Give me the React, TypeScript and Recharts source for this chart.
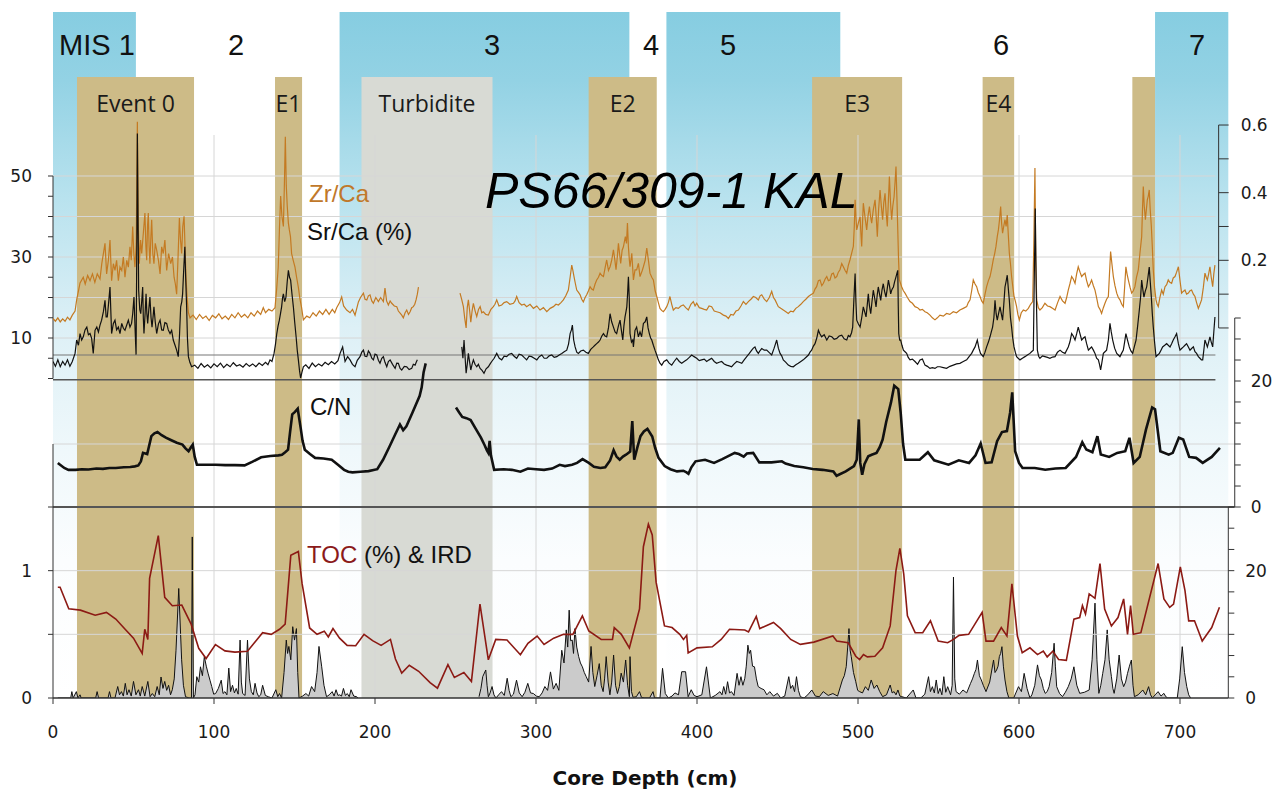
import React from "react";
import {
  ComposedChart,
  Line,
  Area,
  XAxis,
  YAxis,
  ReferenceArea,
  ReferenceLine,
} from "recharts";

const W = 1285;
const H = 792;
const X0 = 53; // pixel of 0 cm
const PX_PER_CM = 1.61;
const depthToX = (d: number) => X0 + d * PX_PER_CM;

type Pt = [number, number | null];
const toRows = (pts: Pt[]) => pts.map(([d, v]) => ({ d, v }));

// ---- annotations (depth ranges in cm) ----
const MIS_STAGES = [
  { name: "MIS 1", from: 0, to: 51.5, warm: true, labelAt: 27.3 },
  { name: "2", from: 51.5, to: 178, warm: false, labelAt: 113.7 },
  { name: "3", from: 178, to: 358, warm: true, labelAt: 272.7 },
  { name: "4", from: 358, to: 381, warm: false, labelAt: 371.4 },
  { name: "5", from: 381, to: 489, warm: true, labelAt: 419.3 },
  { name: "6", from: 489, to: 684.5, warm: false, labelAt: 588.8 },
  { name: "7", from: 684.5, to: 730, warm: true, labelAt: 710.6 },
];

const EVENTS = [
  { name: "Event 0", from: 14.9, to: 87.6, kind: "ird" },
  { name: "E1", from: 137.9, to: 154.7, kind: "ird" },
  { name: "Turbidite", from: 191.6, to: 273, kind: "turbidite" },
  { name: "E2", from: 332.7, to: 375, kind: "ird" },
  { name: "E3", from: 471.5, to: 527.4, kind: "ird" },
  { name: "E4", from: 577.4, to: 597, kind: "ird" },
  { name: "", from: 670.4, to: 684.5, kind: "ird" },
];

const DEPTH_TICKS = [0, 100, 200, 300, 400, 500, 600, 700];
const SR_TICKS = [0, 5, 10, 15, 20, 25, 30, 35, 40, 45, 50];
const ZR_TICKS = [0, 0.1, 0.2, 0.3, 0.4, 0.5, 0.6];
const CN_TICKS = [0, 3.33, 6.67, 10, 13.33, 16.67, 20, 23.33, 26.67, 30];
const TOC_TICKS = [0, 0.5, 1, 1.5];
const IRD_TICKS = [0, 3.33, 6.67, 10, 13.33, 16.67, 20, 23.33, 26.67, 30];

// ---- Zr/Ca (right axis, top panel) ----
const ZR_CA: Pt[] = [
  [0,0.028],[1.5,0.02],[3,0.03],[4.5,0.018],[6,0.027],[7.5,0.02],[9,0.032],[10.5,0.024],[12,0.038],[13.7,0.05],
  [14.7,0.083],[16.8,0.133],[18.8,0.15],[20,0.13],[21.5,0.155],[23,0.14],[24.5,0.16],[26,0.135],[27.5,0.16],[29.2,0.145],
  [30.3,0.19],[31.3,0.22],[32.3,0.25],[33.3,0.16],[34.4,0.2],[35.4,0.26],[36.4,0.14],[37.5,0.19],[38.5,0.17],[39.5,0.2],
  [40.6,0.14],[41.6,0.18],[42.7,0.17],[43.7,0.21],[44.7,0.15],[45.8,0.2],[46.8,0.18],[47.8,0.24],[48.6,0.2],[49.5,0.3],
  [50.2,0.22],[50.9,0.18],[51.7,0.25],[52.4,0.61],[53,0.3],[53.6,0.19],[54.4,0.26],[55.1,0.22],[56.1,0.28],[57.1,0.34],
  [57.7,0.24],[58.2,0.2],[58.7,0.3],[59.2,0.34],[59.7,0.24],[60.2,0.19],[60.8,0.27],[61.3,0.32],[62,0.22],[62.7,0.19],
  [63.5,0.25],[64.4,0.23],[65.5,0.2],[66.5,0.16],[67.5,0.24],[68.5,0.22],[69.5,0.26],[70.6,0.17],[71.8,0.22],[73.1,0.19],
  [74.2,0.21],[75.2,0.15],[76,0.13],[76.8,0.1],[77.6,0.2],[78.5,0.325],[79.2,0.26],[79.9,0.22],[80.6,0.3],[81.4,0.33],
  [82,0.24],[82.6,0.15],[83.3,0.09],[84.1,0.045],[85.1,0.03],
  [87,0.038],[89,0.025],[91,0.04],[93,0.028],[95,0.035],[97,0.022],[99,0.037],[101,0.03],[103,0.042],[105,0.027],
  [107,0.035],[109,0.025],[111,0.04],[113,0.03],[115,0.045],[117,0.032],[119,0.04],[121,0.03],[123,0.045],[125,0.035],
  [127,0.05],[129,0.04],[130.6,0.06],[132,0.045],[134,0.055],[136,0.05],[137.9,0.06],
  [139,0.12],[139.9,0.18],[140.7,0.3],[141.4,0.39],[142.2,0.33],[143.1,0.3],[143.7,0.42],[144.3,0.565],[144.9,0.42],[145.5,0.36],
  [146.2,0.31],[146.8,0.29],[147.5,0.27],[148.2,0.22],[149.2,0.2],[150.3,0.18],[151.3,0.15],[152.4,0.12],[153.4,0.085],[154.4,0.06],
  [155.5,0.024],[157.6,0.035],[159.5,0.03],[161.5,0.045],[163.5,0.035],[165.5,0.05],[167.5,0.04],[169.5,0.055],[171.5,0.04],[173.5,0.055],
  [175,0.045],[176.2,0.06],[178,0.075],[179.3,0.092],[180.5,0.065],[182.4,0.053],[184.5,0.045],[186,0.055],[187.6,0.038],[189.7,0.077],
  [191,0.09],[192.8,0.103],[193.8,0.085],[194.9,0.083],[195.9,0.095],[196.9,0.098],[198,0.08],[199,0.073],[200.5,0.09],[202.1,0.078],
  [203.5,0.09],[205.2,0.078],[206.2,0.118],[207.2,0.08],[208.3,0.068],[209.4,0.08],[210.4,0.073],[212,0.065],[213.5,0.063],[214.5,0.05],
  [215.6,0.044],[216.6,0.038],[217.6,0.03],[218.7,0.045],[219.7,0.053],[220.8,0.04],[221.8,0.048],[222.8,0.06],[223.8,0.063],[224.7,0.07],
  [225.5,0.083],[226.3,0.1],[227,0.121],
  [240,null],
  [252.8,0.103],[253.8,0.085],[254.9,0.063],[255.7,0.03],[256.6,0],[257.3,0.06],[258,0.083],[258.8,0.05],[259.5,0.017],[260.3,0.05],
  [261.1,0.073],[262.2,0.05],[263.2,0.034],[264.3,0.055],[265.3,0.063],[266.3,0.045],[267.3,0.048],[268.8,0.04],[270.4,0.038],[272,0.055],
  [273.5,0.063],[274.5,0.07],[275.6,0.083],[277,0.065],[278.7,0.068],[280.2,0.075],[281.8,0.078],[283.8,0.07],[286,0.073],[287,0.08],
  [288,0.093],[289.5,0.075],[291.1,0.068],[292.7,0.07],[294.2,0.063],[296.3,0.07],[298.4,0.058],[300.5,0.065],[302.5,0.053],[304.6,0.06],
  [306.7,0.048],[308.8,0.058],[310.8,0.063],[312.4,0.07],[313.9,0.068],[315.5,0.075],[317,0.083],[318.5,0.095],[320.1,0.112],[321.2,0.15],
  [322.2,0.186],[322.9,0.17],[323.6,0.152],[324.5,0.13],[325.3,0.112],[326.4,0.105],[327.4,0.098],[328.4,0.085],[329.4,0.077],[330.5,0.09],
  [331.5,0.098],[332.6,0.11],[333.6,0.122],[334.6,0.115],[335.6,0.112],[336.7,0.13],[337.7,0.142],[338.8,0.15],[339.8,0.162],[340.9,0.155],
  [341.9,0.152],[343,0.18],[343.9,0.201],[345,0.17],[346,0.181],[347,0.2],[348.1,0.231],[349,0.2],[349.7,0.172],[350.5,0.21],
  [351.2,0.25],[351.9,0.22],[352.6,0.191],[353.5,0.23],[354.3,0.24],[355.5,0.27],[356.2,0.25],[356.8,0.31],[357.4,0.24],[358,0.2],
  [358.4,0.181],[359.5,0.221],[360.5,0.142],[361.5,0.172],[362.5,0.172],[363.6,0.191],[364.6,0.152],[366,0.17],[366.7,0.181],[367.8,0.2],
  [368.8,0.236],[369.8,0.201],[370.8,0.162],[371.9,0.15],[372.9,0.142],[374,0.11],[375,0.093],[376,0.075],[377,0.058],[378,0.052],
  [379.1,0.048],[380.2,0.055],[381.2,0.063],[382.2,0.075],[383.2,0.093],[384.3,0.07],[385.3,0.053],[386.9,0.06],[388.4,0.058],[390,0.065],
  [391.5,0.068],[393,0.06],[394.6,0.053],[396.2,0.07],[397.7,0.078],[398.8,0.065],[399.8,0.073],[401.4,0.06],[402.9,0.058],[404.5,0.055],
  [406,0.053],[407.5,0.065],[409.1,0.063],[410.7,0.05],[412.2,0.048],[414.3,0.045],[416.4,0.038],[418,0.035],[419.5,0.028],[421,0.04],
  [422.6,0.038],[424.2,0.05],[425.7,0.053],[427.3,0.065],[428.8,0.078],[430.4,0.07],[431.9,0.078],[433.5,0.085],[435,0.093],[436.5,0.09],
  [438.1,0.083],[439.2,0.095],[440.2,0.098],[441.8,0.085],[443.3,0.078],[444.9,0.09],[446.4,0.108],[447.5,0.09],[448.5,0.083],[450.5,0.063],
  [452,0.058],[453.6,0.053],[455.2,0.048],[456.7,0.043],[458.2,0.05],[459.8,0.048],[461.4,0.058],[462.9,0.063],[464.5,0.07],[466,0.078],
  [467.6,0.085],[469.2,0.093],[470.7,0.098],[472.3,0.103],[473.3,0.115],[474.3,0.122],[475.4,0.14],[476.4,0.142],[477.5,0.125],[478.5,0.132],
  [479.6,0.145],[480.6,0.152],[481.6,0.14],[482.6,0.142],[483.7,0.16],[484.7,0.162],[485.7,0.148],[486.8,0.152],[487.8,0.165],[488.8,0.172],
  [489.9,0.19],[490.9,0.181],[492,0.17],[493,0.162],[494,0.185],[495,0.201],[496,0.22],[497.1,0.241],[497.7,0.3],[498.2,0.379],
  [498.7,0.33],[499.2,0.29],[500.2,0.31],[501.3,0.329],[501.8,0.28],[502.3,0.241],[502.8,0.31],[503.3,0.369],[504.3,0.33],[505.4,0.29],
  [506.2,0.33],[507.1,0.359],[507.8,0.33],[508.5,0.31],[509.5,0.35],[510.6,0.379],[511.3,0.33],[512,0.27],[512.8,0.35],[513.7,0.408],
  [514.5,0.36],[515.3,0.32],[516,0.37],[516.8,0.398],[517.5,0.34],[518.2,0.3],[518.9,0.38],[519.5,0.448],[520.2,0.37],[520.9,0.32],
  [521.6,0.36],[522.4,0.388],[523,0.43],[523.6,0.477],[524.2,0.38],[524.7,0.29],[525.2,0.2],[525.7,0.142],[527.1,0.122],[528.2,0.11],
  [529.2,0.103],[530.7,0.09],[532.3,0.078],[533.8,0.073],[535.4,0.063],[537,0.06],[538.5,0.053],[540,0.055],[541.6,0.048],[543,0.045],
  [544.7,0.038],[546.2,0.03],[547.8,0.024],[549.3,0.03],[550.9,0.038],[553,0.035],[555,0.043],[557,0.04],[559.2,0.048],[561.2,0.045],
  [563.3,0.053],[565.4,0.058],[567.5,0.063],[568.5,0.075],[569.6,0.083],[570.6,0.11],[571.6,0.142],[572.7,0.13],[573.7,0.122],[574.7,0.105],
  [575.8,0.093],[576.8,0.08],[577.8,0.073],[578.9,0.1],[579.9,0.122],[581,0.14],[582,0.152],[583,0.175],[584,0.201],[584.9,0.22],
  [585.7,0.241],[586.5,0.27],[587.2,0.29],[587.9,0.32],[588.6,0.359],[589.2,0.31],[589.8,0.28],[590.5,0.3],[591.3,0.32],[592,0.3],
  [592.7,0.334],[593.3,0.28],[594,0.221],[594.7,0.19],[595.4,0.152],[596.2,0.12],[596.9,0.093],[597.7,0.08],[598.5,0.063],[599.3,0.04],
  [600.2,0.024],[601.4,0.045],[602.7,0.053],[604.2,0.05],[605.8,0.058],[607.2,0.07],[608.5,0.078],[609.2,0.25],[609.9,0.473],[610.4,0.2],
  [611,0.083],[612,0.06],[613,0.053],[614.5,0.06],[616.1,0.073],[617.7,0.065],[619.2,0.063],[620.8,0.058],[622.4,0.053],[624,0.075],
  [625.5,0.093],[627,0.08],[628.6,0.073],[629.6,0.09],[630.6,0.112],[631.6,0.13],[632.7,0.152],[633.7,0.145],[634.8,0.132],[635.8,0.16],
  [636.8,0.181],[637.9,0.165],[638.9,0.152],[640,0.158],[641,0.162],[642,0.14],[643.1,0.122],[644.1,0.13],[645.1,0.142],[646.2,0.125],
  [647.2,0.112],[648.2,0.09],[649.3,0.063],[650.3,0.055],[651.3,0.043],[652.4,0.06],[653.4,0.073],[654.4,0.085],[655.5,0.093],[656.2,0.16],
  [656.9,0.226],[657.7,0.19],[658.6,0.152],[659.6,0.125],[660.7,0.103],[661.7,0.09],[662.7,0.083],[663.8,0.07],[664.8,0.063],[665.6,0.12],
  [666.4,0.181],[667.1,0.16],[667.9,0.142],[669,0.12],[670,0.103],[671,0.11],[672,0.122],[673,0.15],[674.1,0.172],[675.1,0.22],
  [676.2,0.27],[676.7,0.35],[677.2,0.418],[677.8,0.36],[678.5,0.32],[679.1,0.35],[679.7,0.379],[680.3,0.39],[680.9,0.408],[681.5,0.35],
  [682.2,0.3],[682.8,0.24],[683.4,0.172],[684.2,0.12],[685.1,0.083],[685.8,0.07],[686.5,0.063],[687.5,0.09],[688.6,0.112],[689.6,0.1],
  [690.7,0.122],[691.7,0.128],[692.7,0.142],[693.7,0.135],[694.8,0.132],[695.8,0.148],[696.9,0.152],[697.9,0.165],[699,0.181],[700,0.14],
  [701,0.103],[702,0.108],[703.1,0.112],[704.1,0.1],[705.2,0.103],[706.2,0.11],[707.2,0.112],[708.3,0.1],[709.3,0.093],[710.3,0.075],
  [711.4,0.058],[712.4,0.07],[713.4,0.083],[714.5,0.12],[715.5,0.162],[716.3,0.15],[717,0.142],[717.8,0.16],[718.6,0.181],[719.4,0.15],
  [720.3,0.122],[721,0.16],[721.7,0.186],
];

// ---- Sr/Ca (%) (left axis, top panel) ----
const SR_CA: Pt[] = [
  [0,4.2],[1.5,3],[3,4.6],[4.5,2.9],[6,4.2],[7.5,3.3],[9,4.6],[10.5,3],[12,4.2],[13.7,6.2],
  [14.7,9.5],[15.8,8.2],[16.8,11.1],[17.8,9.5],[18.8,10.3],[19.9,12],[21,12.7],[22,10.8],[23,11.1],[24,9.9],
  [25,6.2],[26.1,11.9],[27.2,12.7],[28.2,11.5],[29.2,13.2],[30.2,14.4],[31.3,16.5],[32.3,19.3],[33,15.2],[33.7,15.2],
  [34.5,18.5],[35.4,22.6],[36.4,11.1],[37.5,13.6],[38.5,14.4],[39.5,12],[40.6,12.7],[41.6,11.1],[42.7,13.6],[43.7,12.4],
  [44.7,11.9],[45.8,13.2],[46.8,14.4],[47.8,12.7],[48.8,13.6],[49.5,16],[50.3,20.1],[51,12],[51.6,5.9],[52.1,35],
  [52.4,60.5],[52.8,40],[53.2,21.8],[53.9,17],[54.5,16],[55.1,19],[55.7,22.6],[56.1,15],[56.5,11.1],[57.2,16],
  [57.8,20.9],[58.3,16],[58.8,13.6],[59.5,17],[60.2,20.1],[60.9,15],[61.5,12.7],[62.1,15],[62.7,17.7],[63.5,14],
  [64.4,11.1],[65.5,13.5],[66.5,14.4],[67.5,12],[68.5,11.9],[69.5,13.8],[70.6,13.6],[71.6,12],[72.7,11.1],[73.7,11.9],
  [74.7,9.5],[75.8,8.2],[76.8,7],[77.8,5.4],[78.5,10],[79.3,17.7],[80,19],[80.5,20.9],[81.2,27],[81.9,32.5],
  [82.4,25],[83,17.7],[83.5,10],[84.1,5.4],[85,4],[86.1,2.9],
  [88,3.3],[90,2.5],[92,3.7],[94,2.8],[96,3.4],[98,2.6],[100,3.6],[102,2.9],[104,3.8],[106,2.7],
  [108,3.5],[110,2.9],[112,3.9],[114,3.1],[116,3.4],[118,2.8],[120,3.7],[122,3],[124,3.6],[126,2.9],
  [128,3.8],[130,3.2],[132,4],[133.5,3.4],[134.8,4.6],[136,4.2],[137.3,6.2],
  [138.2,8.5],[139,11.1],[139.8,13],[140.6,14.4],[141.3,16],[142,17.7],[142.6,20],[143.1,20.9],[143.9,19],[144.7,20.1],
  [145.5,24],[146.2,26.7],[146.9,25],[147.6,24.3],[148.4,21],[149.3,17.7],[150.1,14],[151,10.3],[151.7,7],[152.4,4.6],
  [153.1,2],[153.8,0.1],[154.6,1.5],[155.5,2.9],
  [157,3.4],[159,2.5],[161,3.8],[163,2.9],[165,3.6],[167,3.1],[169,4],[171,3.4],[173,4.2],[175,3.6],
  [177,4.4],[178.3,6.2],[179.9,7.8],[181.4,4.2],[183,5.4],[184.5,4.6],[186,3.5],[187.6,2.9],[189,4.5],[190.7,5.4],
  [191.8,6.5],[192.8,7],[193.8,5.5],[194.9,5.4],[195.9,6.8],[196.9,6.2],[198,5],[199,4.6],[200,6],[201.1,5.8],
  [202.1,4.5],[203.1,3.75],[204.2,5],[205.2,5.4],[206.2,4],[207.3,2.9],[208.3,4.2],[209.4,4.6],[210.9,3.5],[212.5,2.5],
  [213.5,3.8],[214.5,3.75],[215.6,2.5],[216.6,2.1],[218.2,3],[219.7,2.9],[221.2,2.2],[222.8,2.5],[223.8,3.5],[224.9,3.3],
  [225.6,4],[226.3,4.6],
  [240,null],
  [253.9,7.8],[254.6,5],[255.3,9.5],[256,5],[256.6,1.3],[257.3,3.5],[258,6.2],[258.8,4],[259.5,2.1],[260.3,3.5],
  [261.1,4.6],[262.1,3.5],[263.2,2.9],[264.2,3.5],[265.3,2.5],[266.5,2],[267.7,1.3],[269,2.4],[270.4,2.9],[271.5,3.6],
  [272.5,4.2],[274,5],[275.6,6.2],[277.2,5],[278.7,4.6],[280.2,5.5],[281.8,5.4],[283.3,6],[284.9,6.2],[286.4,5.5],
  [288,5],[289.5,6],[291.1,5.8],[292.6,5.2],[294.2,4.6],[295.7,5.5],[297.3,5.4],[298.9,5],[300.5,4.6],[302,5.4],
  [303.6,5.8],[305.1,5],[306.7,5],[308.2,5.6],[309.8,5.8],[311.3,5.2],[312.9,5.4],[314.4,5.8],[316,6.2],[317.5,6.6],
  [319.1,7],[320.2,8.5],[321.2,11.1],[322,12],[322.6,13.2],[323.4,9.5],[324.3,7.8],[325.3,6.5],[326.3,6.2],[327.8,6.8],
  [329.4,7],[331,6.5],[332.5,6.2],[334,7.2],[335.6,7.8],[336.6,8.2],[337.7,8.6],[338.8,9],[339.8,9.5],[340.9,10.5],
  [341.9,11.1],[342.9,10.5],[343.9,10.3],[345,12.5],[346,16],[347,14],[348.1,12.7],[349.1,11.5],[350.1,11.1],[351.2,13],
  [352.2,14.4],[353,12],[353.9,9.5],[354.6,13],[355.3,15.2],[355.9,16.5],[356.4,17.7],[356.9,21],[357.4,25.1],[357.9,20],
  [358.4,11.1],[359.3,9],[360.1,9.5],[360.5,7.8],[361.5,11.9],[362.5,12.7],[363.6,10.3],[364.6,11.5],[365.6,10.3],[366.7,13.6],
  [367.8,14],[368.8,15.2],[369.6,12.5],[370.4,11.1],[371.2,10],[371.9,9.5],[372.9,8.2],[373.9,7],[375,5.8],[376,4.6],
  [377,3.8],[378.1,3.3],[379.5,4.2],[381.2,4.6],[382.7,3.8],[384.3,3.3],[385.8,4.2],[387.4,5],[389,4.2],[390.5,3.75],
  [392,4.2],[393.6,4.6],[395.2,5.2],[396.7,5.8],[398.2,5.4],[399.8,5],[401.4,4.4],[402.9,4.6],[404.5,4.8],[406,4.2],
  [407.5,4.6],[409.1,5],[410.7,4.2],[412.2,3.75],[413.8,4],[415.3,4.2],[416.9,3.6],[418.4,3.3],[420,3.1],[421.5,2.9],
  [423.1,3.6],[424.7,4.2],[426.2,4],[427.8,3.75],[429.3,4.6],[430.9,5.4],[432.5,6.2],[434,7],[435,7.5],[436,7.8],
  [437,6.8],[438.1,6.2],[439.2,6.9],[440.2,7.4],[441.8,7],[443.3,7],[444.9,6.4],[446.4,5.8],[447.9,7.5],[448.7,8.5],
  [449.5,9.5],[450.5,7.5],[451.6,6.2],[452.6,5.6],[453.6,4.6],[455.2,4],[456.7,3.3],[458.2,3],[459.8,2.9],[461.4,3.4],
  [462.9,3.75],[464.5,4.2],[466,4.6],[467.6,5.2],[469.2,5.8],[470.2,6.5],[471.2,7],[472.3,8],[473.3,8.6],[474.4,10],
  [475.4,11.9],[476.4,11],[477.4,10.3],[479,10.8],[480.6,9.5],[482.1,10.5],[483.7,10.3],[485.2,9.7],[486.8,9.9],[488.3,10.5],
  [489.9,10.7],[491.4,9.8],[493,9.5],[494,10.6],[495,10.3],[496,11.3],[496.7,12.7],[497.5,20],[498.2,25.9],[498.7,19],
  [499.2,14.4],[500.2,13.5],[501.3,12.7],[502.3,15],[503.3,17.7],[504.1,16.5],[505,15.2],[505.7,18],[506.4,20.9],[507.1,18],
  [507.9,16],[508.7,19],[509.5,21.8],[510.3,20],[511.2,17.7],[511.9,20.5],[512.6,22.6],[513.3,21],[514.1,19.3],[514.9,21.8],
  [515.7,23.4],[516.5,21.5],[517.4,20.1],[518.1,22],[518.9,24.3],[519.6,22.8],[520.3,20.9],[521.1,22],[522,22.6],[522.8,24],
  [523.6,25.1],[524.2,26],[524.7,26.7],[525,18],[525.3,11.1],[525.9,9.5],[526.5,9.5],[527.3,8.2],[528.2,7],[529.2,6.6],
  [530.2,6.2],[531.2,5.2],[532.3,4.6],[533.8,4.8],[535.4,4.2],[537,3.5],[538.5,4.6],[540,4.8],[541.6,3.3],[543.1,3],
  [544.7,2.5],[546.2,2.7],[547.8,2.5],[549.3,2.9],[550.9,2.9],[553,2.7],[555,2.5],[557.1,3],[559.2,3.3],[561.2,3.6],
  [563.3,3.75],[565.4,4.2],[567.5,4.6],[569,5.4],[570.6,6.2],[571.6,7],[572.7,7.8],[574.1,9.5],[575.1,7.5],[576.1,6.2],
  [577.8,5.4],[578.9,6.5],[579.9,7.8],[581,9],[582,10.3],[582.8,11.5],[583.6,12.7],[584.4,15],[585.1,19.3],[585.8,16],
  [586.5,14.4],[587.3,16],[588.2,17.7],[589,16],[589.8,14.4],[590.5,18],[591.3,22.6],[592,24],[592.7,25.5],[593.4,22],
  [594,19.3],[594.7,15],[595.4,12.7],[596.1,10],[596.9,7.8],[597.7,6.5],[598.5,5.4],[599.5,5],[600.6,4.6],[602.1,5],
  [603.7,5.4],[605.2,5.8],[606.8,6.2],[607.8,6.6],[608.9,7],[609.5,25],[610.1,42],[610.7,22],[611.4,7],[612.2,5.5],
  [613,5],[614.6,5.6],[616.1,5.4],[617.7,5.2],[619.2,5],[620.8,5.3],[622.4,5.4],[623.9,6.5],[625.5,7],[627,6.5],
  [628.6,6.2],[630.6,7.8],[631.6,9],[632.7,11.1],[633.7,10.5],[634.8,9.5],[635.8,11],[636.8,12.7],[637.9,11],[638.9,9.5],
  [640,10],[641,10.3],[642,8.6],[643.1,7],[644.1,7.4],[645.1,7.8],[646.2,7],[647.2,6.2],[648.2,5],[649.3,4.6],
  [650,3.5],[650.7,2.1],[651.5,4],[652.4,6.2],[653.4,6.6],[654.4,7],[655.5,9.5],[656.5,13.6],[657.3,11.5],[658.2,9.5],
  [659.4,7.5],[660.7,6.2],[661.7,5.8],[662.7,5.4],[663.7,6.2],[664.8,7],[665.6,9],[666.4,11.1],[667.4,9.5],[668.5,7.8],
  [669.5,6.8],[670.6,6.2],[671.6,7.8],[672.7,9.5],[673.7,13],[674.7,16.8],[675.5,20],[676.2,24.3],[676.9,22],[677.6,20.1],
  [678.4,21.5],[679.3,22.6],[680.1,25],[680.9,27.5],[681.5,24],[682.2,20.1],[682.8,16],[683.4,12.7],[684.2,9],[685.1,5.4],
  [686.1,5.8],[687.2,6.2],[688.2,7],[689.2,7.8],[690.5,8.2],[691.7,8.6],[692.7,8.2],[693.8,7.8],[694.8,8.6],[695.8,9.5],
  [696.9,10.3],[697.9,11.1],[699,8.6],[700,7],[701,7.4],[702.1,7.8],[703.1,8.2],[704.1,8.6],[705.2,7.8],[706.2,7],
  [707.2,7.4],[708.3,7.8],[709.3,6.6],[710.3,6.2],[711.4,5.4],[712.4,5],[713.3,4.6],[714.1,4.6],[714.8,7],[715.5,9.5],
  [716.3,8.6],[717,7.8],[717.8,9],[718.6,10.3],[719.4,9],[720.3,7.8],[721,11.5],[721.7,15.2],
];

// ---- C/N (middle panel) ----
const CN_RATIO: Pt[] = [
  [3,7],[4.4,6.7],[7,6.2],[9.6,5.9],[14,5.9],[18,6],[22,5.95],[27,6.1],[31,6.05],[35,6.2],
  [39,6.2],[44,6.3],[48,6.35],[50.8,6.45],[53,6.6],[54.6,7.25],[55.9,8.6],[58.5,8.4],[61.1,11.25],[63,11.7],
  [64.9,11.9],[67.5,11.4],[70.1,11],[73.5,10.6],[76.9,10.2],[80.4,9.9],[82.3,9.3],[84.2,8.85],[85.5,9.4],[86.8,9.9],
  [88,8],[89.4,6.7],[95,6.7],[101,6.7],[107,6.65],[113,6.65],[119,6.6],[124,7.2],[129.3,7.9],[135,8.1],
  [140,8.2],[142.2,8.3],[144.2,8.7],[146,9.1],[147.3,12],[148.6,14.7],[150.3,15.1],[152,15.6],[153.8,12.6],[155,10.5],
  [156.4,9.1],[159.6,8.4],[162.8,7.8],[168,7.7],[173.1,7.5],[177,6.7],[180.8,5.9],[183.4,5.6],[186,5.5],[191,5.6],
  [196,5.7],[201.4,6],[205,7.5],[209.1,9.65],[212.3,11.4],[215.5,13.1],[217.5,12.2],[219.5,12.8],[223.3,15],[225.5,16.3],
  [227.7,17.6],[229,19],[230.2,21.4],[231.5,22.8],
  [240,null],
  [250.3,15.8],[252.3,15],[254.2,14.3],[256.8,14.1],[259.4,13.8],[262.6,12.4],[265.8,11],[268.1,9.8],[269.5,9],[270.4,8.6],
  [271.2,10.5],[272,8.2],[274,5.9],[280,6],[285,5.9],[290.3,5.6],[295,6.1],[300,6],[305,5.9],[310,6.1],
  [314.7,6.7],[318,6.5],[322.4,6.7],[325.5,7],[328.9,7.6],[332.8,7],[336,6.4],[340,6.2],[343,6.3],[346,7.4],
  [348.2,9],[350,8],[352,7.5],[354,8],[355.9,8.3],[358.5,8.8],[359.8,13.65],[361,7.5],[363,9.5],[364.9,11.25],
  [367,12],[369.2,12.4],[372.2,11.2],[374,9.4],[376.1,7.8],[379.9,6.5],[383.5,6],[387.6,5.65],[391.5,5.76],[393.5,5.5],
  [394.7,5.28],[396.5,6.3],[399.1,7.25],[405,7.5],[410.6,6.99],[415.7,7.6],[423.4,8.59],[426,8.4],[429,8],[431,8.5],
  [434.9,8.59],[438.7,7.09],[446.3,7.09],[452.7,7.25],[455,6.9],[460.4,6.5],[466,6.3],[471.9,6.03],[478,5.9],[484.7,5.65],
  [486.7,4.96],[492.4,5.65],[497.5,6.5],[499.2,7.5],[500.5,13.9],[501.4,7],[502.6,5.12],[504,6.8],[506.4,8.05],[508.5,8.3],
  [511.5,8.59],[513.5,9.5],[515.3,10.7],[517.5,13.5],[520.5,16.6],[522.5,19.25],[525,18.72],[526.5,15],[528,10],[529.4,7.5],
  [533.8,7.5],[538.3,7.5],[543.4,8.69],[547.3,7.41],[556.2,6.72],[562.6,7.41],[569,6.99],[573,8.2],[576.2,10.08],[579.2,6.99],
  [583,7.09],[586.4,10.45],[589.4,11.89],[592.5,12.05],[594.5,15],[595.8,18.19],[597.6,8.85],[600,7],[602.2,6.19],[609.8,6.19],
  [616.3,5.92],[622.6,6.1],[629,6.19],[635.4,7.95],[639.3,10.29],[641.8,9.12],[645.6,8.69],[648.7,11.25],[650.8,8.32],[656,7.95],
  [661,8.59],[666,8.85],[668.6,10.99],[671.2,6.99],[675,7.95],[678.9,12.32],[682.7,15.79],[684.5,15.52],[687.8,8.85],[693,8.32],
  [695.5,8.59],[699.3,10.99],[702,10.72],[705.7,7.95],[710,7.8],[714.1,7],[719.7,7.95],[724.8,9.39],
];

// ---- TOC (%) (bottom panel, left axis) ----
const TOC: Pt[] = [
  [3,0.87],[4.4,0.87],[9.8,0.7],[17,0.69],[26.2,0.65],[33.2,0.672],[39,0.62],[44.8,0.54],[50,0.47],[55.4,0.35],
  [57,0.54],[58.9,0.46],[60,0.94],[65.4,1.275],[69.4,0.79],[74.1,0.725],[80,0.73],[85.8,0.58],[90.5,0.39],[95.1,0.31],
  [100.9,0.42],[106.8,0.37],[113,0.36],[120.8,0.367],[130.2,0.513],[135.5,0.5],[140.7,0.54],[144.2,0.58],[147.7,1.12],[152.4,1.15],
  [154.7,0.9],[159.4,0.55],[164,0.5],[168.5,0.525],[171,0.48],[173.9,0.545],[178,0.47],[182.7,0.413],[188,0.41],[193.2,0.5],
  [198.5,0.45],[203.8,0.413],[209.6,0.46],[212.7,0.306],[216.6,0.196],[221.3,0.257],[227.1,0.21],[234.2,0.121],[238.8,0.077],[245.3,0.262],
  [249.3,0.161],[255.2,0.2],[259.9,0.13],[265.2,0.738],[270.4,0.3],[275,0.46],[282,0.455],[290.3,0.34],[295,0.43],[300.7,0.486],
  [305,0.42],[311,0.47],[317.1,0.5],[322.9,0.5],[328.8,0.645],[332.8,0.526],[340.5,0.46],[347.5,0.46],[348.6,0.553],[353,0.5],
  [358,0.394],[362.7,0.62],[364.3,0.7],[366.7,1.188],[369.8,1.365],[372.2,1.28],[374.6,0.91],[379.8,0.566],[384.5,0.553],[389.3,0.5],
  [391.6,0.46],[393.6,0.492],[394.5,0.354],[400,0.394],[409.5,0.402],[415,0.46],[420.2,0.54],[429.7,0.534],[432,0.519],[436.8,0.64],
  [439,0.545],[447.5,0.593],[452,0.545],[458.2,0.46],[464.2,0.421],[472.6,0.439],[484.4,0.487],[486.8,0.447],[493.9,0.434],[498.6,0.328],
  [501,0.302],[503.4,0.341],[505.8,0.323],[510.5,0.328],[515.3,0.394],[520,0.566],[523.6,1.003],[526,1.175],[528.4,0.976],[530.7,0.646],
  [535.5,0.513],[540.2,0.513],[545,0.606],[549.8,0.447],[555.7,0.434],[559.3,0.46],[562.8,0.492],[568.7,0.5],[577.1,0.672],[579.5,0.447],
  [584.2,0.447],[589,0.553],[592.5,0.487],[595.6,0.897],[599,0.487],[602,0.355],[606.8,0.394],[611.5,0.341],[615.1,0.368],[617.5,0.323],
  [621,0.368],[624.6,0.302],[629.4,0.296],[634.1,0.619],[637.7,0.632],[639.4,0.725],[641.3,0.659],[643.6,0.817],[647.2,0.783],[650.3,1.056],
  [653.2,0.698],[657.4,0.566],[661.5,0.632],[665,0.778],[667.4,0.5],[669.3,0.725],[671,0.5],[675.7,0.513],[686.4,1.056],[690,0.778],
  [693.6,0.712],[696,0.738],[700.2,1.029],[703.1,0.844],[705.4,0.606],[709,0.606],[713.8,0.447],[719.7,0.553],[724.5,0.712],
];

// ---- IRD (bottom panel, right axis) ----
const IRD: Pt[] = [
  [3,0],[11,0],[11.7,1],[12.5,0],[14.5,1],[15.5,0],[16.8,0.5],[17.5,0],[26.5,0],[27.4,1],
  [28.3,0],[34.2,0],[35.1,1],[36,0],[38.5,0],[40.2,1.8],[41.3,0.5],[42.5,1],[43.7,0.3],[44.9,2.3],
  [46,0.5],[47.2,1.3],[48.6,0.3],[50,2.6],[51.5,0.5],[53.1,1.3],[54.2,0.3],[55.4,1.8],[57,0.3],[58.9,2.6],
  [60.3,0.2],[61.7,0.7],[63.2,0.2],[64.7,1.8],[66,0.5],[67.1,3.3],[68.3,1.5],[69.4,2.6],[70.6,1.2],[71.8,2],
  [73,0.5],[74.1,1.3],[75.3,3],[76.4,7.5],[78.1,17.2],[79.9,6],[81,2],[82.3,0.2],[84.6,0],[86,0],
  [86.5,25.3],[87.2,0],[88.2,0.5],[89.3,3.35],[90.5,2.5],[91.6,4.9],[92.8,3.5],[94,6.5],[95.2,5],[96.3,3.9],
  [97.5,2.8],[98.6,1.8],[99.8,0.6],[101,0.7],[102.7,1.5],[104.5,2.8],[105.6,0.7],[106.8,1],[108,0.5],[109.2,4.7],
  [110.3,1],[111.5,2],[112.7,0.8],[113.8,1.5],[115,0.6],[116.2,9.1],[117,2.5],[117.8,0.7],[119.3,0.4],[120.8,9.1],
  [122,3],[123.2,1],[124.4,0.5],[125.5,2.3],[126.7,0.8],[127.8,0.2],[129,0.5],[130.2,2],[131.9,0.4],[133.7,0.2],
  [136,0],[138.4,1.3],[139.6,0.2],[140.7,0.7],[142,0],[143.5,4],[144.9,9.1],[145.7,7],[146.5,8.1],[147.7,6],
  [148.9,11.2],[150,9.1],[151.2,10.9],[152,4],[152.8,0],[155,0.3],[157.1,0.7],[158.8,0.3],[160.6,1.8],[162.5,1],
  [164,4],[165.2,8.1],[166.9,4.9],[168.3,2],[169.9,0.2],[171.6,0.5],[173.4,1],[174.6,0.3],[175.8,1.3],[177,0.4],
  [178.1,0.5],[179.2,0.3],[180.4,1.5],[181.6,0.4],[182.8,0.7],[184,0.2],[185.1,1.3],[186.8,0.3],[188.6,0.2],[189.5,0],
  [230,null],
  [264.6,0.2],[265.8,1.5],[266.9,3.35],[268.8,4.4],[269.6,2],[270.4,0.2],[271.5,0.8],[272.7,1.8],[273.9,0.5],[275.1,0],
  [276.8,0.5],[278.6,1],[280.3,0.4],[282.1,3.1],[283.3,1.2],[284.4,0.2],[286,0.6],[287.9,2.8],[289.6,0.8],[291.4,0.2],
  [293.1,0.9],[294.9,2.3],[296.6,0.8],[298.4,0.7],[300.2,0.3],[302,0.2],[303.8,0.8],[305.5,1.8],[307.2,1.2],[309,4.1],
  [310.8,1.4],[312.5,2.3],[314.2,1.2],[316,7.5],[317.4,5.5],[318.8,10.7],[319.7,8],[320.6,13.8],[321.5,9],[322.5,9.1],
  [323.3,7],[324.2,10.9],[325.3,8],[326.5,6.5],[327.6,5.5],[328.8,4.9],[330,4],[331.2,3.35],[332.7,2.5],[334.2,8.1],
  [335.3,4],[336.5,1.8],[337.9,3.5],[339.3,5.4],[340.5,2],[341.7,1],[342.6,3],[343.6,6.5],[344.8,2.5],[345.9,0.5],
  [347,2.5],[348.2,6.75],[349.4,2],[350.6,0.7],[351.8,1.8],[352.9,3.9],[354.3,2.5],[355.7,5.97],[356.9,2],[358,0.2],
  [358.4,6.5],[359.3,1],[360.3,0.1],[362.3,0.2],[364.3,1],[365.5,0.1],[367.5,0],[370.5,0],[372.7,1],[373.6,0],
  [377,0],[378.6,4.66],[380.3,0.7],[382.2,0],[384.5,0.3],[386.3,0.8],[388.5,0.5],[390.5,4.13],[392.9,4.13],[394.5,0.2],
  [396.4,1.3],[398.2,0.4],[400,0.2],[403,0.5],[405.9,4.9],[408.3,0],[411.3,0.4],[414.3,1],[415.5,0.5],[416.6,1.8],
  [417.8,0.6],[419,2.56],[420.2,0.8],[421.4,1],[423,0.4],[424.9,3.87],[426.1,2],[427.3,3.35],[428.5,2],[429.7,3.1],
  [430.6,5],[431.6,8.3],[432.5,7],[433.3,7.5],[434.5,5],[435.7,4.9],[436.9,3],[438,1.8],[439.8,1.5],[441.6,1.3],
  [443.4,0.5],[445.2,1],[447.5,0.3],[449.9,0.73],[452,0],[454.5,0.3],[457,3.35],[458.2,1.5],[459.4,2],[460.6,1],
  [461.8,3.35],[463,1.2],[464.2,0.2],[466.5,0],[468.8,0.5],[471.3,1.26],[473.5,0.3],[476,0.2],[478.4,1],[481.5,0.4],
  [484.4,0.7],[487.3,0.3],[490.3,2.83],[491.5,3.5],[492.7,4.92],[493.6,8],[494.4,10.9],[495.1,7.5],[495.8,6.5],[497.2,4],
  [498.6,2.56],[499.8,1.2],[501,1],[502.8,0.8],[504.6,1.78],[506.4,1.2],[508.2,2.83],[510,1.5],[511.7,2.04],[513.5,1],
  [515.3,0.21],[517.7,0.5],[520,2.04],[521.2,0.8],[522.4,1],[523.6,0.5],[524.8,1.26],[526,0.3],[527.2,0.21],[530,0],
  [534.3,1.26],[536,0],[539,0],[541.5,0.6],[543.8,3.35],[545,1],[546.2,1.78],[547.4,0.8],[548.6,2.83],[549.8,0.7],
  [550.9,1.52],[552.1,0.5],[553.3,3.35],[554.5,0.9],[555.7,1.78],[557.5,0.5],[558.5,2],[559.3,19],[560.1,3],[560.9,1],
  [563,0.6],[565.2,1.26],[567.5,0.8],[569.9,2.3],[571.1,3],[572.3,3.87],[573.3,4.5],[574.2,5.97],[575.4,3.5],[576.6,2.83],
  [577.8,2],[579.5,1],[581.8,2.5],[584.2,5.97],[585.1,4],[586.1,4.4],[587,5],[587.8,6.5],[588.6,7],[589.4,8.06],
  [590.3,5],[591.3,2.83],[592.5,1],[593.7,0],[596.7,0],[599.7,1.78],[601.5,1],[603.2,3.87],[605,1.5],[606.8,0],
  [608,0.5],[609.8,2],[611.5,5.2],[612.7,3.5],[613.9,2.83],[615.1,1.5],[616.3,0.73],[617.5,1],[618.7,1.78],[620.3,4],
  [621.8,8.6],[622.6,5],[623.4,1.78],[625.2,0.7],[627,0.21],[628.8,0.9],[630.6,1.78],[632.4,3],[634.1,4.9],[635.9,2],
  [637.7,0.73],[640.6,0.9],[643.6,1.26],[645.4,6],[647.2,14.9],[648.4,6],[649.6,0.73],[650.8,2],[652,3.87],[653.4,6],
  [654.8,10.7],[656,6],[657.4,3.35],[658.3,1.5],[659.1,0.73],[660.7,3],[662.2,6.75],[663.6,3],[665,1.78],[666.2,2.5],
  [667.4,3.87],[668.6,5],[669.8,5.97],[670.8,2],[671.7,0.21],[674,0.5],[676.9,1.26],[678.7,0.5],[680.5,1.78],[681.7,0.5],
  [682.9,0],[684.6,0.5],[686.4,1],[688.2,0.3],[690,0.73],[691.2,0.2],[692.4,0],[698.3,0],[699.8,3],[701.4,8.06],
  [702.8,4],[704.2,1.78],[705.4,0.5],[706.6,0],
];

const zrRows = toRows(ZR_CA);
const srRows = toRows(SR_CA);
const cnRows = toRows(CN_RATIO);
const tocRows = toRows(TOC);
const irdRows = toRows(IRD);

const TICK_STYLE = { fontSize: 17, fill: "#1a1a1a", fontFamily: "DejaVu Sans, sans-serif" };
const LABEL_FONT = "Liberation Sans, Arial, sans-serif";
const GRID = "#d6d6d6";
const DARK = "#555";

const onlyLabels = (keep: number[]) => (v: number) =>
  keep.some((k) => Math.abs(k - v) < 1e-6) ? String(v) : "";

export default function App() {
  const layer: React.CSSProperties = { position: "absolute", left: 0, top: 0 };

  return (
    <div style={{ position: "absolute", left: 0, top: 0, width: W, height: H, background: "#fff" }}>
      {/* background: MIS stages, event bands, vertical grid */}
      <div style={layer}>
        <ComposedChart
          width={W}
          height={H}
          data={[{ d: 0 }, { d: 730 }]}
          margin={{ top: 12, right: W - depthToX(730), bottom: 94, left: X0 }}
        >
          <defs>
            <linearGradient id="misFill" x1="0" y1="0" x2="0" y2="1">
              <stop offset="0" stopColor="#86cde1" />
              <stop offset="0.1" stopColor="#93d2e4" />
              <stop offset="0.27" stopColor="#b8e2ee" />
              <stop offset="0.46" stopColor="#ddf0f6" />
              <stop offset="0.64" stopColor="#eff8fb" />
              <stop offset="0.8" stopColor="#fbfdfe" />
              <stop offset="1" stopColor="#ffffff" />
            </linearGradient>
          </defs>
          <XAxis type="number" dataKey="d" domain={[0, 730]} hide allowDataOverflow />
          <YAxis type="number" domain={[0, 686]} hide allowDataOverflow />
          {MIS_STAGES.filter((s) => s.warm).map((s) => (
            <ReferenceArea
              key={s.name}
              x1={s.from}
              x2={s.to}
              y1={0}
              y2={686}
              fill="url(#misFill)"
              fillOpacity={1}
              stroke="none"
              ifOverflow="visible"
            />
          ))}
          {EVENTS.map((e, i) => (
            <ReferenceArea
              key={"ev" + i}
              x1={e.from}
              x2={e.to}
              y1={0}
              y2={621}
              fill={e.kind === "turbidite" ? "#d8dad4" : "#cdbb87"}
              fillOpacity={1}
              stroke="none"
            />
          ))}
          {DEPTH_TICKS.slice(1).map((t) => (
            <ReferenceLine
              key={"vg" + t}
              segment={[{ x: t, y: 0 }, { x: t, y: 563 }]}
              stroke={GRID}
              strokeWidth={1}
            />
          ))}
        </ComposedChart>
      </div>

      {/* top panel: Zr/Ca and Sr/Ca */}
      <div style={layer}>
        <ComposedChart
          width={W}
          height={H}
          margin={{ top: 110, right: W - depthToX(724) - 40, bottom: H - 378.5, left: X0 - 40 }}
        >
          <XAxis type="number" dataKey="d" domain={[0, 724]} hide allowDataOverflow />
          <YAxis
            yAxisId="sr"
            orientation="left"
            width={40}
            domain={[0, 66.3]}
            ticks={SR_TICKS}
            interval={0}
            allowDataOverflow
            axisLine={false}
            tickLine={{ stroke: "#333" }}
            tickSize={5}
            tickMargin={16}
            tick={TICK_STYLE}
            tickFormatter={onlyLabels([10, 30, 50])}
          />
          <YAxis
            yAxisId="zr"
            orientation="right"
            width={40}
            domain={[-0.1494, 0.6444]}
            ticks={ZR_TICKS}
            interval={0}
            allowDataOverflow
            axisLine={false}
            tickLine={{ stroke: "#333" }}
            tickSize={10}
            tickMargin={12}
            tick={TICK_STYLE}
            tickFormatter={(v: number) => ([2, 4, 6].includes(Math.round(v * 10)) ? v.toFixed(1) : "")}
          />
          {[10, 20, 30, 40, 50].map((g) => (
            <ReferenceLine key={"hg" + g} yAxisId="sr" segment={[{ x: 0, y: g }, { x: 722, y: g }]} stroke={GRID} />
          ))}
          <ReferenceLine yAxisId="sr" segment={[{ x: 0, y: 5.8 }, { x: 722, y: 5.8 }]} stroke="#777" strokeWidth={1.2} />
          <ReferenceLine yAxisId="sr" segment={[{ x: 0, y: 0 }, { x: 0, y: 50 }]} stroke="#333" ifOverflow="visible" />
          <ReferenceLine yAxisId="zr" segment={[{ x: 724, y: 0 }, { x: 724, y: 0.6 }]} stroke="#333" ifOverflow="visible" />
          <Line
            yAxisId="zr"
            data={zrRows}
            dataKey="v"
            type="linear"
            stroke="#c47a22"
            strokeWidth={1.2}
            dot={false}
            activeDot={false}
            connectNulls={false}
            isAnimationActive={false}
          />
          <Line
            yAxisId="sr"
            data={srRows}
            dataKey="v"
            type="linear"
            stroke="#111"
            strokeWidth={1.2}
            dot={false}
            activeDot={false}
            connectNulls={false}
            isAnimationActive={false}
          />
        </ComposedChart>
      </div>

      {/* middle panel: C/N */}
      <div style={layer}>
        <ComposedChart
          width={W}
          height={H}
          margin={{ top: 318, right: W - depthToX(734) - 40, bottom: H - 507, left: X0 }}
        >
          <XAxis type="number" dataKey="d" domain={[0, 734]} hide allowDataOverflow />
          <YAxis
            yAxisId="cn"
            orientation="right"
            width={40}
            domain={[0, 30]}
            ticks={CN_TICKS}
            interval={0}
            allowDataOverflow
            axisLine={{ stroke: "#333" }}
            tickLine={{ stroke: "#333" }}
            tickSize={6}
            tickMargin={10}
            tick={TICK_STYLE}
            tickFormatter={onlyLabels([0, 20])}
          />
          <ReferenceLine yAxisId="cn" segment={[{ x: 0, y: 10 }, { x: 734, y: 10 }]} stroke={GRID} />
          <ReferenceLine yAxisId="cn" segment={[{ x: 0, y: 20.2 }, { x: 722, y: 20.2 }]} stroke={DARK} strokeWidth={1.5} />
          <ReferenceLine yAxisId="cn" segment={[{ x: 0, y: 0 }, { x: 734, y: 0 }]} stroke={DARK} strokeWidth={1.8} />
          <ReferenceLine yAxisId="cn" segment={[{ x: 0, y: 0 }, { x: 0, y: 10 }]} stroke="#333" ifOverflow="visible" />
          <Line
            yAxisId="cn"
            data={cnRows}
            dataKey="v"
            type="linear"
            stroke="#111"
            strokeWidth={2.6}
            dot={false}
            activeDot={false}
            connectNulls={false}
            isAnimationActive={false}
          />
        </ComposedChart>
      </div>

      {/* bottom panel: TOC and IRD */}
      <div style={layer}>
        <ComposedChart
          width={W}
          height={H}
          margin={{ top: 507, right: W - depthToX(730) - 40, bottom: 54, left: X0 - 40 }}
        >
          <XAxis
            type="number"
            dataKey="d"
            domain={[0, 730]}
            ticks={DEPTH_TICKS}
            interval={0}
            allowDataOverflow
            height={40}
            axisLine={{ stroke: "#333", strokeWidth: 1.5 }}
            tickLine={{ stroke: "#333" }}
            tickSize={6}
            tickMargin={22}
            tick={TICK_STYLE}
          />
          <YAxis
            yAxisId="toc"
            orientation="left"
            width={40}
            domain={[0, 1.5]}
            ticks={TOC_TICKS}
            interval={0}
            allowDataOverflow
            axisLine={{ stroke: "#333" }}
            tickLine={{ stroke: "#333" }}
            tickSize={5}
            tickMargin={16}
            tick={TICK_STYLE}
            tickFormatter={onlyLabels([0, 1])}
          />
          <YAxis
            yAxisId="ird"
            orientation="right"
            width={40}
            domain={[0, 30]}
            ticks={IRD_TICKS}
            interval={0}
            allowDataOverflow
            axisLine={{ stroke: "#333" }}
            tickLine={{ stroke: "#333" }}
            tickSize={6}
            tickMargin={11}
            tick={TICK_STYLE}
            tickFormatter={onlyLabels([0, 20])}
          />
          {[0.5, 1].map((g) => (
            <ReferenceLine key={"tg" + g} yAxisId="toc" segment={[{ x: 0, y: g }, { x: 730, y: g }]} stroke={GRID} />
          ))}
          <Area
            yAxisId="ird"
            data={irdRows}
            dataKey="v"
            type="linear"
            baseValue={0}
            stroke="#111"
            strokeWidth={1}
            fill="#cbcbcb"
            fillOpacity={1}
            dot={false}
            activeDot={false}
            connectNulls={false}
            isAnimationActive={false}
          />
          <Line
            yAxisId="toc"
            data={tocRows}
            dataKey="v"
            type="linear"
            stroke="#8c1a14"
            strokeWidth={1.6}
            dot={false}
            activeDot={false}
            isAnimationActive={false}
          />
        </ComposedChart>
      </div>

      {/* text annotations */}
      <svg width={W} height={H} style={{ ...layer, pointerEvents: "none" }}>
        {MIS_STAGES.map((s) => (
          <text
            key={"mis" + s.name}
            x={depthToX(s.labelAt)}
            y={55}
            textAnchor="middle"
            fontSize={29}
            fontFamily={LABEL_FONT}
            fill="#111"
          >
            {s.name}
          </text>
        ))}
        {EVENTS.filter((e) => e.name).map((e) => (
          <text
            key={"evl" + e.name}
            x={depthToX((e.from + e.to) / 2)}
            y={112}
            textAnchor="middle"
            fontSize={23}
            fontFamily="Open Sans, sans-serif"
            fill="#1a1a1a"
          >
            {e.name}
          </text>
        ))}
        <text x={485} y={208} fontSize={50} fontStyle="italic" fontFamily={LABEL_FONT} fill="#000">
          PS66/309-1 KAL
        </text>
        <text x={309} y={202} fontSize={24} fontFamily={LABEL_FONT} fill="#c0782a">
          Zr/Ca
        </text>
        <text x={307} y={240} fontSize={24} fontFamily={LABEL_FONT} fill="#111">
          Sr/Ca (%)
        </text>
        <text x={310} y={415} fontSize={24} fontFamily={LABEL_FONT} fill="#111">
          C/N
        </text>
        <text x={307} y={563} fontSize={24} fontFamily={LABEL_FONT} fill="#111">
          <tspan fill="#8b1a1a">TOC</tspan> (%) &amp; IRD
        </text>
        <text x={645} y={785} textAnchor="middle" fontSize={20} fontWeight="bold" fontFamily="DejaVu Sans, sans-serif" fill="#111">
          Core Depth (cm)
        </text>
      </svg>
    </div>
  );
}
